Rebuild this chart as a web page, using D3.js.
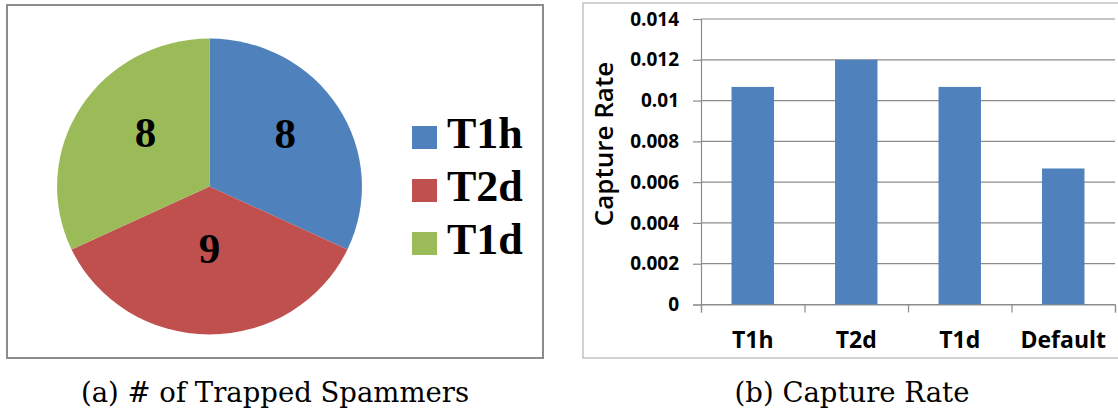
<!DOCTYPE html>
<html>
<head>
<meta charset="utf-8">
<script src="https://cdn.jsdelivr.net/npm/d3@7"></script>
<style>
  html, body { margin: 0; padding: 0; background: #fff; }
  svg { display: block; }
</style>
</head>
<body>
<svg id="chart" width="1118" height="413"></svg>
<script>
// Panel (a) pie + panel (b) bar chart

const pieCats = ["T1h", "T2d", "T1d"];
const pieVals = [8, 9, 8];
const pieColors = ["#4f81bd", "#c0504d", "#9bbb59"];

const barCats = ["T1h", "T2d", "T1d", "Default"];
const barVals = [0.01067, 0.012, 0.01067, 0.00667];
const yTicks = [0, 0.002, 0.004, 0.006, 0.008, 0.01, 0.012, 0.014];

const svg = d3.select("#chart");

// ---------- (a) pie ----------
svg.append("rect")
  .attr("x", 7).attr("y", 5).attr("width", 536).attr("height", 353)
  .attr("fill", "#fff").attr("stroke", "#8c8c8c").attr("stroke-width", 2);

const R = 148;
const pg = svg.append("g")
  .attr("transform", "translate(209.5,186.5) scale(1.03,1)");

const pie = d3.pie().sort(null).value(d => d)(pieVals);
const arc = d3.arc().innerRadius(0).outerRadius(R);

pg.selectAll("path.slice")
  .data(pie)
  .join("path")
  .attr("class", "slice")
  .attr("d", arc)
  .attr("fill", (d, i) => pieColors[i]);

// Excel-ish label placement: radius and angle nudge per slice
const labelR = [93, 61, 84];
const labelShift = [-3, 0, 8];
svg.append("g").attr("transform", "translate(209.5,186.5)")
  .selectAll("text")
  .data(pie)
  .join("text")
  .attr("x", (d, i) => {
    const a = (d.startAngle + d.endAngle) / 2 + labelShift[i] * Math.PI / 180;
    return Math.sin(a) * labelR[i];
  })
  .attr("y", (d, i) => {
    const a = (d.startAngle + d.endAngle) / 2 + labelShift[i] * Math.PI / 180;
    return -Math.cos(a) * labelR[i];
  })
  .attr("dy", "0.35em")
  .attr("text-anchor", "middle")
  .attr("font-family", "Liberation Serif, serif")
  .attr("font-weight", 700)
  .attr("font-size", 43)
  .attr("fill", "#000")
  .text(d => d.data);

// legend
const leg = svg.append("g").attr("transform", "translate(412,126)");
const legRow = leg.selectAll("g")
  .data(pieCats)
  .join("g")
  .attr("transform", (d, i) => `translate(0,${i * 53})`);
legRow.append("rect")
  .attr("width", 25).attr("height", 23)
  .attr("fill", (d, i) => pieColors[i]);
legRow.append("text")
  .attr("x", 35).attr("y", 22)
  .attr("font-family", "Liberation Serif, serif")
  .attr("font-weight", 700)
  .attr("font-size", 44)
  .attr("fill", "#000")
  .text(d => d);

// ---------- (b) bars ----------
svg.append("rect")
  .attr("x", 583).attr("y", 3).attr("width", 560).attr("height", 355)
  .attr("fill", "#fff").attr("stroke", "#a6a6a6").attr("stroke-width", 1);

const x0 = 701, x1 = 1115, yBot = 304.5, yTop = 19;

const y = d3.scaleLinear().domain([0, 0.014]).range([yBot, yTop]);
const x = d3.scaleBand().domain(barCats).range([x0, x1])
  .paddingInner(0.59).paddingOuter(0.295);
const xb = d3.scaleLinear().domain([0, barCats.length]).range([x0, x1]);

// gridlines
svg.append("g")
  .selectAll("line")
  .data(yTicks)
  .join("line")
  .attr("x1", x0).attr("x2", x1)
  .attr("y1", d => y(d)).attr("y2", d => y(d))
  .attr("stroke", "#8c8c8c").attr("stroke-width", 1.2);

// y axis
const yAxis = svg.append("g")
  .attr("transform", `translate(${x0},0)`)
  .call(d3.axisLeft(y).tickValues(yTicks).tickSize(8).tickPadding(14)
    .tickFormat(d => d === 0 ? "0" : String(+d.toFixed(3))));
yAxis.select(".domain").attr("stroke", "#8c8c8c").attr("stroke-width", 1.2);
yAxis.selectAll(".tick line").attr("stroke", "#8c8c8c").attr("stroke-width", 1.2);
yAxis.selectAll("text")
  .attr("font-family", "Open Sans, sans-serif")
  .attr("font-weight", 700)
  .attr("font-size", 19)
  .attr("fill", "#000");

// bars
svg.append("g")
  .selectAll("rect")
  .data(barVals)
  .join("rect")
  .attr("x", (d, i) => x(barCats[i]))
  .attr("width", x.bandwidth())
  .attr("y", d => y(d))
  .attr("height", d => yBot - y(d))
  .attr("fill", "#4f81bd");

// x axis: boundary ticks
const xAxis = svg.append("g")
  .attr("transform", `translate(0,${yBot})`)
  .call(d3.axisBottom(xb).tickValues(d3.range(barCats.length + 1))
    .tickSize(8).tickFormat(""));
xAxis.select(".domain").attr("stroke", "#8c8c8c").attr("stroke-width", 1.2);
xAxis.selectAll(".tick line").attr("stroke", "#8c8c8c").attr("stroke-width", 1.2);

// category labels
const xLab = svg.append("g")
  .attr("transform", `translate(0,${yBot})`)
  .call(d3.axisBottom(x).tickSize(0).tickPadding(27));
xLab.select(".domain").remove();
xLab.selectAll("text")
  .attr("font-family", "Open Sans, sans-serif")
  .attr("font-weight", 700)
  .attr("font-size", 23)
  .attr("fill", "#000");

// y title
svg.append("text")
  .attr("transform", "translate(604,144) rotate(-90)")
  .attr("dy", "0.35em")
  .attr("text-anchor", "middle")
  .attr("font-family", "Open Sans, sans-serif")
  .attr("font-weight", 600)
  .attr("font-size", 26)
  .attr("fill", "#000")
  .text("Capture Rate");

// ---------- captions ----------
svg.append("text")
  .attr("x", 275).attr("y", 402)
  .attr("text-anchor", "middle")
  .attr("font-family", "DejaVu Serif, serif")
  .attr("font-size", 27.5)
  .attr("fill", "#000")
  .text("(a) # of Trapped Spammers");

svg.append("text")
  .attr("x", 852).attr("y", 402)
  .attr("text-anchor", "middle")
  .attr("font-family", "DejaVu Serif, serif")
  .attr("font-size", 27.5)
  .attr("fill", "#000")
  .text("(b) Capture Rate");
</script>
</body>
</html>
